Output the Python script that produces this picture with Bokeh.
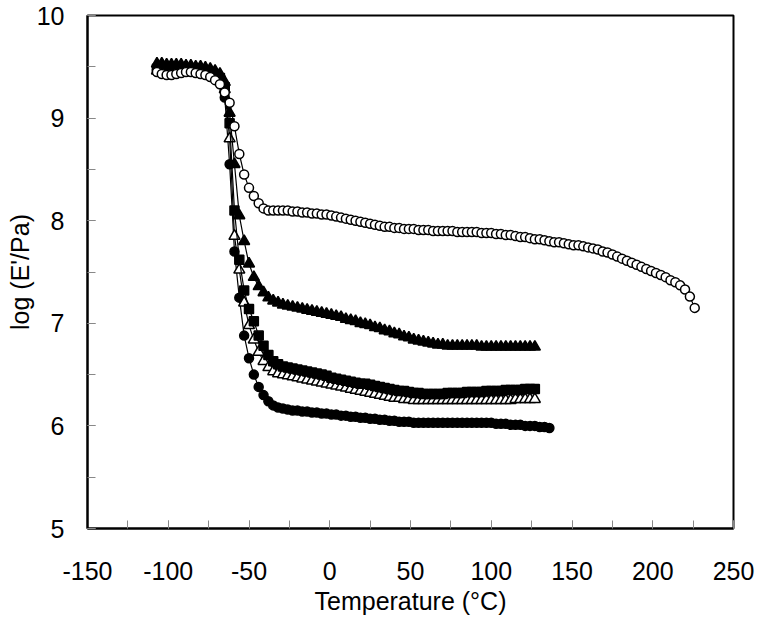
from bokeh.plotting import figure
from bokeh.models import SingleIntervalTicker, Range1d, PrintfTickFormatter
from bokeh.embed import file_html
from bokeh.resources import INLINE

# ---------------- data ----------------
temp_mid = [-107, -104, -101, -98, -95, -92, -89, -86, -83, -80,
            -77, -74, -71, -68, -65, -62, -59, -56, -53, -50,
            -47, -44, -41, -38, -35, -32, -29, -26, -23, -20,
            -17, -14, -11, -8, -5, -2, 1, 4, 7, 10,
            13, 16, 19, 22, 25, 28, 31, 34, 37, 40,
            43, 46, 49, 52, 55, 58, 61, 64, 67, 70,
            73, 76, 79, 82, 85, 88, 91, 94, 97, 100,
            103, 106, 109, 112, 115, 118, 121, 124, 127]

temp_e = temp_mid + [130, 133, 136]

temp_a = temp_mid + [130, 133, 136, 139, 142, 145, 148, 151, 154, 157,
                     160, 163, 166, 169, 172, 175, 178, 181, 184, 187,
                     190, 193, 196, 199, 202, 205, 208, 211, 214, 217,
                     220, 223, 226]

# open circles
logE_a = [9.45, 9.43, 9.42, 9.42, 9.43, 9.44, 9.45, 9.45, 9.44, 9.43,
          9.42, 9.40, 9.37, 9.33, 9.25, 9.15, 8.92, 8.65, 8.45, 8.32,
          8.24, 8.17, 8.12, 8.10, 8.10, 8.10, 8.10, 8.10, 8.09, 8.09,
          8.08, 8.08, 8.07, 8.07, 8.06, 8.06, 8.05, 8.04, 8.03, 8.02,
          8.01, 8.00, 7.99, 7.98, 7.97, 7.96, 7.95, 7.94, 7.94, 7.93,
          7.93, 7.92, 7.92, 7.92, 7.91, 7.91, 7.91, 7.90, 7.90, 7.90,
          7.90, 7.90, 7.89, 7.89, 7.89, 7.89, 7.89, 7.88, 7.88, 7.88,
          7.87, 7.87, 7.86, 7.86, 7.85, 7.84, 7.84, 7.83, 7.82,
          7.82, 7.81, 7.80, 7.79, 7.79, 7.78, 7.77, 7.76, 7.76, 7.75,
          7.74, 7.73, 7.72, 7.70, 7.69, 7.67, 7.65, 7.63, 7.61, 7.59,
          7.57, 7.55, 7.53, 7.51, 7.49, 7.47, 7.45, 7.42, 7.40, 7.37,
          7.33, 7.26, 7.15]

# filled triangles
logE_b = [9.53, 9.53, 9.52, 9.52, 9.52, 9.52, 9.51, 9.51, 9.50, 9.50,
          9.49, 9.48, 9.46, 9.43, 9.35, 9.05, 8.55, 8.05, 7.80, 7.58,
          7.45, 7.36, 7.30, 7.25, 7.22, 7.20, 7.18, 7.17, 7.16, 7.15,
          7.14, 7.13, 7.12, 7.11, 7.10, 7.09, 7.08, 7.07, 7.06, 7.04,
          7.03, 7.02, 7.00, 6.99, 6.98, 6.96, 6.95, 6.93, 6.92, 6.90,
          6.89, 6.87, 6.86, 6.84, 6.83, 6.82, 6.81, 6.80, 6.79, 6.79,
          6.78, 6.78, 6.78, 6.78, 6.78, 6.78, 6.78, 6.77, 6.77, 6.77,
          6.77, 6.77, 6.77, 6.77, 6.77, 6.77, 6.77, 6.77, 6.77]

# filled squares
logE_c = [9.48, 9.48, 9.48, 9.48, 9.48, 9.48, 9.47, 9.47, 9.47, 9.46,
          9.45, 9.44, 9.42, 9.39, 9.30, 8.95, 8.10, 7.62, 7.32, 7.14,
          7.02, 6.88, 6.78, 6.69, 6.63, 6.60, 6.58, 6.57, 6.56, 6.55,
          6.54, 6.53, 6.52, 6.51, 6.50, 6.49, 6.47, 6.46, 6.45, 6.44,
          6.43, 6.42, 6.41, 6.41, 6.40, 6.39, 6.38, 6.37, 6.36, 6.35,
          6.34, 6.34, 6.33, 6.32, 6.32, 6.31, 6.31, 6.31, 6.31, 6.31,
          6.32, 6.32, 6.32, 6.32, 6.33, 6.33, 6.33, 6.33, 6.34, 6.34,
          6.34, 6.34, 6.35, 6.35, 6.35, 6.35, 6.36, 6.36, 6.36]

# open triangles
logE_d = [9.46, 9.46, 9.46, 9.46, 9.46, 9.46, 9.45, 9.45, 9.45, 9.44,
          9.43, 9.42, 9.40, 9.36, 9.28, 8.80, 7.85, 7.52, 7.20, 6.98,
          6.84, 6.72, 6.63, 6.57, 6.53, 6.51, 6.50, 6.49, 6.48, 6.47,
          6.46, 6.45, 6.44, 6.43, 6.42, 6.41, 6.40, 6.39, 6.38, 6.37,
          6.36, 6.35, 6.34, 6.33, 6.32, 6.31, 6.30, 6.29, 6.28, 6.27,
          6.27, 6.26, 6.26, 6.25, 6.25, 6.25, 6.25, 6.25, 6.25, 6.25,
          6.25, 6.25, 6.25, 6.25, 6.25, 6.25, 6.25, 6.25, 6.25, 6.25,
          6.25, 6.25, 6.25, 6.25, 6.26, 6.26, 6.26, 6.26, 6.26]

# filled circles
logE_e = [9.47, 9.47, 9.46, 9.46, 9.46, 9.46, 9.46, 9.46, 9.45, 9.45,
          9.44, 9.43, 9.40, 9.34, 9.20, 8.55, 7.70, 7.25, 6.88, 6.66,
          6.50, 6.38, 6.30, 6.24, 6.20, 6.18, 6.17, 6.16, 6.15, 6.15,
          6.14, 6.14, 6.13, 6.13, 6.12, 6.12, 6.11, 6.11, 6.10, 6.10,
          6.09, 6.09, 6.08, 6.08, 6.07, 6.07, 6.06, 6.06, 6.05, 6.05,
          6.04, 6.04, 6.04, 6.03, 6.03, 6.03, 6.03, 6.03, 6.03, 6.03,
          6.03, 6.03, 6.03, 6.03, 6.03, 6.03, 6.03, 6.03, 6.03, 6.03,
          6.02, 6.02, 6.02, 6.01, 6.01, 6.01, 6.00, 6.00, 6.00,
          5.99, 5.99, 5.98]

x_label = "Temperature (°C)"
y_label = "log (E'/Pa)"

# ---------------- figure ----------------
FONT = "Liberation Sans"

p = figure(width=761, height=618, output_backend="svg", toolbar_location=None,
           x_range=Range1d(-150, 250), y_range=Range1d(5, 10),
           min_border_left=87, min_border_right=28, min_border_top=15,
           min_border_bottom=90)

p.background_fill_color = "white"
p.border_fill_color = "white"
p.grid.visible = False
p.outline_line_color = "black"
p.outline_line_width = 2

series = [
    (temp_e, logE_e, "circle", 9, "black"),
    (temp_mid, logE_d, "triangle", 11, "white"),
    (temp_mid, logE_c, "square", 9, "black"),
    (temp_mid, logE_b, "triangle", 11, "black"),
    (temp_a, logE_a, "circle", 9, "white"),
]
for xs, ys, mk, sz, fc in series:
    p.line(xs, ys, line_color="black", line_width=1.2)
    p.scatter(xs, ys, marker=mk, size=sz, fill_color=fc,
              line_color="black", line_width=1.5)

p.xaxis.ticker = SingleIntervalTicker(interval=50, num_minor_ticks=2)
p.yaxis.ticker = SingleIntervalTicker(interval=1, num_minor_ticks=2)
p.xaxis.formatter = PrintfTickFormatter(format="%d")
p.yaxis.formatter = PrintfTickFormatter(format="%d")

for ax in (p.xaxis[0], p.yaxis[0]):
    ax.axis_line_color = "black"
    ax.axis_line_width = 2
    ax.major_tick_in = 8
    ax.major_tick_out = 0
    ax.minor_tick_in = 8
    ax.minor_tick_out = 0
    ax.major_tick_line_color = "#888888"
    ax.minor_tick_line_color = "#888888"
    ax.major_tick_line_width = 1
    ax.minor_tick_line_width = 1
    ax.major_label_text_font = FONT
    ax.major_label_text_font_size = "25px"
    ax.major_label_text_color = "black"
    ax.axis_label_text_font = FONT
    ax.axis_label_text_font_size = "25px"
    ax.axis_label_text_font_style = "normal"
    ax.axis_label_text_color = "black"

p.xaxis.axis_label = x_label
p.yaxis.axis_label = y_label
p.xaxis.major_label_standoff = 33
p.yaxis.major_label_standoff = 23
p.xaxis.axis_label_standoff = 4
p.yaxis.axis_label_standoff = 0

open("out.html", "w").write(file_html(p, INLINE))
